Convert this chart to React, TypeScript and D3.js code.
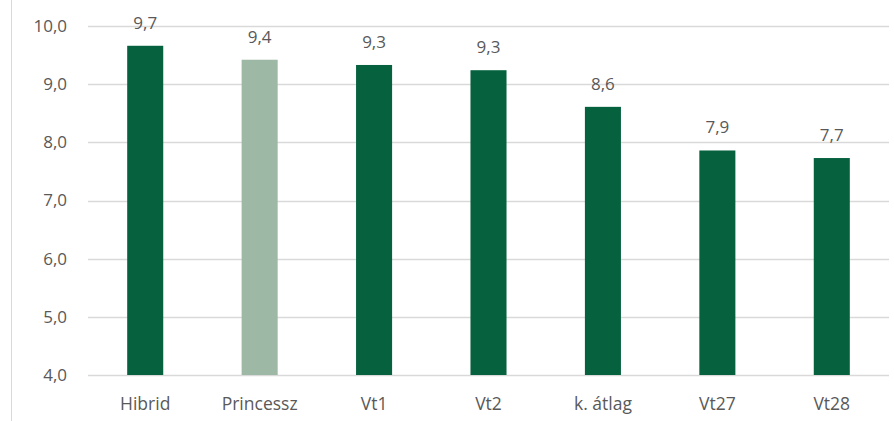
import React from "react";
import * as d3 from "d3";

const categories = ["Hibrid", "Princessz", "Vt1", "Vt2", "k. átlag", "Vt27", "Vt28"];
const values = [9.66, 9.42, 9.33, 9.24, 8.61, 7.86, 7.73];
const labels = ["9,7", "9,4", "9,3", "9,3", "8,6", "7,9", "7,7"];
const highlight = ["Princessz"];
const yTicks = [4, 5, 6, 7, 8, 9, 10];

const W = 894;
const H = 421;
const left = 88;
const right = 889;
const top = 26;
const bottom = 375;
const font = "Open Sans, sans-serif";

export default function App() {
  const x = d3.scaleBand<string>().domain(categories).range([left, right]).paddingInner(0.685).paddingOuter(0.3425);
  const y = d3.scaleLinear().domain([4, 10]).range([bottom, top]);
  const fmt = (v: number) => v.toFixed(1).replace(".", ",");
  return (
    <svg width={W} height={H} style={{ position: "absolute", left: 0, top: 0, background: "#fff" }}>
      <line x1={11.5} x2={11.5} y1={0} y2={H} stroke="#d9d9d9" strokeWidth={1} />
      {yTicks.map((t) => (
        <g key={t}>
          <line x1={left} x2={right} y1={Math.round(y(t)) + 0.5} y2={Math.round(y(t)) + 0.5} stroke="#d9d9d9" strokeWidth={1.5} />
          <text x={67} y={y(t)} dy="0.35em" textAnchor="end" fontFamily={font} fontSize={17} fill="#595959">
            {fmt(t)}
          </text>
        </g>
      ))}
      {categories.map((c, i) => {
        const bx = x(c)!;
        const bw = x.bandwidth();
        const cx = bx + bw / 2;
        return (
          <g key={c}>
            <rect x={bx} y={y(values[i])} width={bw} height={y(4) - y(values[i])} fill={highlight.includes(c) ? "#9db8a5" : "#06623e"} />
            <text x={cx} y={y(values[i]) - 23} dy="0.35em" textAnchor="middle" fontFamily={font} fontSize={17} fill="#595959">
              {labels[i]}
            </text>
            <text x={cx} y={404} dy="0.35em" textAnchor="middle" fontFamily={font} fontSize={17.5} fill="#595959">
              {c}
            </text>
          </g>
        );
      })}
    </svg>
  );
}
